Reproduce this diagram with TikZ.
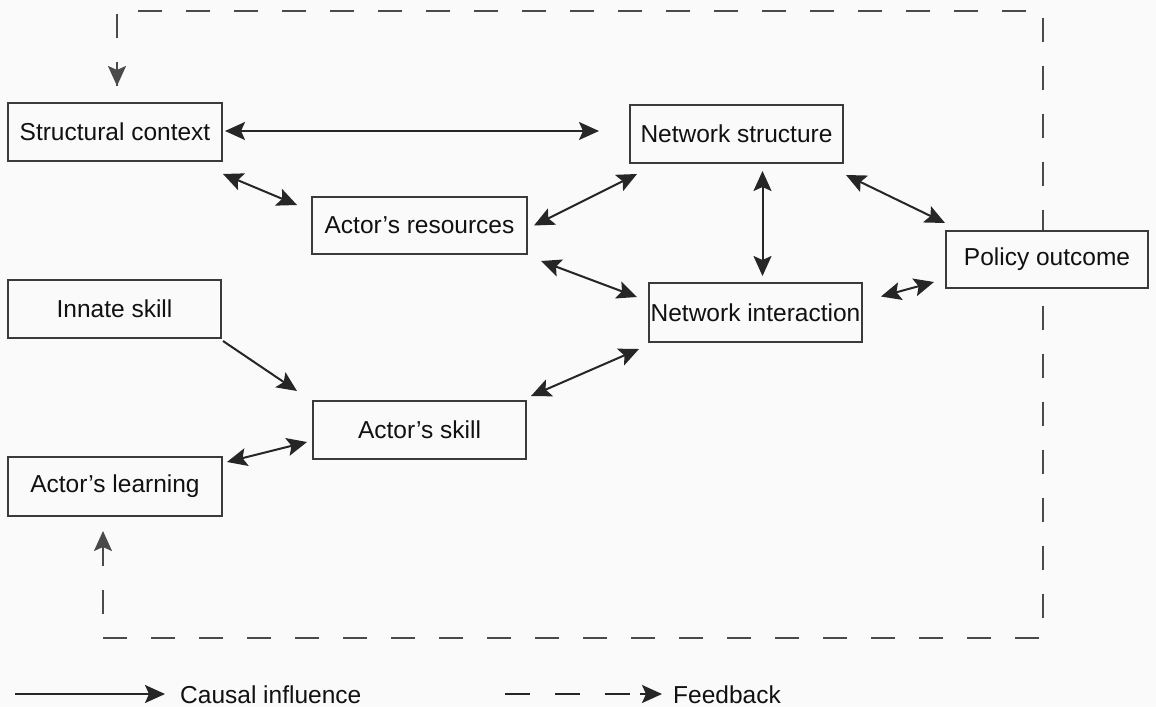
\documentclass[tikz,border=0pt]{standalone}
\usepackage{fontspec}
\setmainfont{Liberation Sans}
\usetikzlibrary{arrows.meta,calc}
\definecolor{bg}{HTML}{FAFAFA}
\definecolor{boxline}{HTML}{3A3A3A}
\definecolor{txt}{HTML}{111111}
\definecolor{fbline}{HTML}{4A4A4A}
\tikzset{
  box/.style={draw=boxline, line width=2pt, fill=bg, inner sep=0pt, text=txt,
    font=\fontsize{24.5}{29}\selectfont},
  bi/.style={line width=2pt, draw=black!85, <->},
  uni/.style={line width=2pt, draw=black!85, ->},
  fb/.style={line width=2pt, draw=fbline, dash pattern=on 24pt off 24pt},
  fbtip/.style={line width=2pt, draw=fbline, ->},
  legtext/.style={inner sep=0pt, text=txt, font=\fontsize{24.5}{29}\selectfont}
}
\begin{document}
\begin{tikzpicture}[x=1pt,y=-1pt, >={Stealth[length=20pt,width=18pt,inset=4pt]}]
\fill[bg] (0,0) rectangle (1156,707);
\useasboundingbox (0,0) rectangle (1156,707);

% feedback loop corners
\coordinate (c1) at (117,11);
\coordinate (c2) at (1043,11);
\coordinate (c3) at (1043,638);
\coordinate (c4) at (103,638);

% boxes
\node[box, minimum width=214pt, minimum height=58pt] (sc) at (115,132) {Structural context};
\node[box, minimum width=213pt, minimum height=58pt] (ns) at (736.5,134) {Network structure};
\node[box, minimum width=215pt, minimum height=57pt] (ar) at (419.5,225.5) {Actor’s resources};
\node[box, minimum width=213pt, minimum height=59pt] (ni) at (755.5,312.5) {Network interaction};
\node[box, minimum width=213pt, minimum height=58pt] (is) at (114.5,309) {Innate skill};
\node[box, minimum width=213pt, minimum height=58pt] (as) at (419.5,430) {Actor’s skill};
\node[box, minimum width=214pt, minimum height=59pt] (al) at (115,486.5) {Actor’s learning};

\coordinate (fbtop) at ([shift={(2,-16)}]sc.north);
\coordinate (fbbot) at ([shift={(-12,14)}]al.south);

\draw[fb] (fbtop) -- (c1) -- (c2) -- (c3) -- (c4) -- (fbbot);
\draw[fbtip] ([shift={(0,-22)}]fbtop) -- (fbtop);
\draw[fbtip] ([shift={(0,22)}]fbbot) -- (fbbot);

\node[box, minimum width=202pt, minimum height=57pt] (po) at (1047,259.5) {Policy outcome};

% helper coordinates
\coordinate (h1a) at ([shift={(2,-1)}]sc.east);
\coordinate (h1b) at ([shift={(-30,-3)}]ns.west);
\coordinate (h5a) at ([shift={(26,7)}]ns.south);
\coordinate (h5b) at ([shift={(7,-6)}]ni.north);

% connectors
\draw[bi] (h1a) -- (h1a -| h1b);
\draw[bi] ([shift={(0,12)}]sc.south east) -- ([shift={(-14,9)}]ar.north west);
\draw[bi] ([shift={(6,0)}]ar.east) -- ([shift={(8,10)}]ns.south west);
\draw[bi] ([shift={(13,6)}]ar.south east) -- ([shift={(-11,15)}]ni.north west);
\draw[bi] (h5a) -- (h5a |- h5b);
\draw[bi] ([shift={(2,11)}]ns.south east) -- ([shift={(0,-7)}]po.north west);
\draw[bi] ([shift={(18,-16)}]ni.east) -- ([shift={(-11,22.5)}]po.west);
\draw[uni] ([shift={(1,2)}]is.south east) -- ([shift={(-15,-9)}]as.north west);
\draw[bi] ([shift={(4,-4)}]as.north east) -- ([shift={(-9,6)}]ni.south west);
\draw[bi] ([shift={(4,6)}]al.north east) -- ([shift={(-5,12)}]as.west);

% legend
\node[legtext, anchor=base west] (lc) at (180,703) {Causal influence};
\node[legtext, anchor=base west] (lf) at (673,703) {Feedback};
\coordinate (ls) at (15,694);
\coordinate (lfs) at (505,694);
\coordinate (lce) at ([shift={(-15,0)}]lc.west);
\coordinate (lfd) at ([shift={(-43,0)}]lf.west);
\coordinate (lfa) at ([shift={(-33,0)}]lf.west);
\coordinate (lft) at ([shift={(-11,0)}]lf.west);
\draw[uni] (ls) -- (ls -| lce);
\draw[line width=2pt, draw=black!85, dash pattern=on 25pt off 25pt] (lfs) -- (lfs -| lfd);
\draw[uni] (lfs -| lfa) -- (lfs -| lft);
\end{tikzpicture}
\end{document}
